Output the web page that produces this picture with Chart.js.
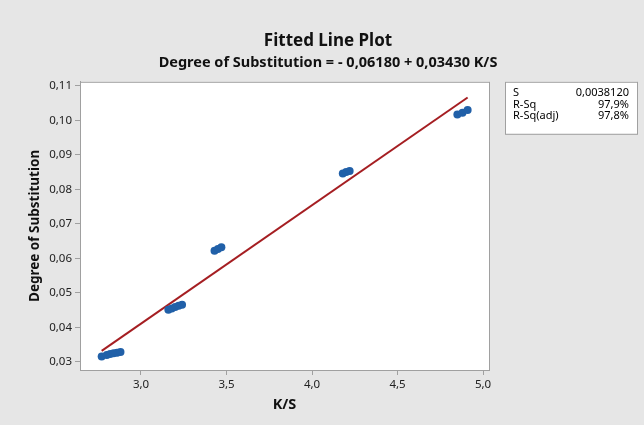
<!DOCTYPE html>
<html>
<head>
<meta charset="utf-8">
<script src="https://cdn.jsdelivr.net/npm/chart.js@4.4.1/dist/chart.umd.min.js"></script>
<style>
  html, body { margin: 0; padding: 0; background: #e6e6e6; }
  #wrap { width: 644px; height: 425px; position: relative; }
</style>
</head>
<body>
<div id="wrap"><canvas id="fitChart"></canvas></div>
<script>
// ---- data ----
const ksValues = [2.77, 2.80, 2.82, 2.84, 2.86, 2.88,
                  3.16, 3.18, 3.20, 3.22, 3.24,
                  3.43, 3.45, 3.47,
                  4.18, 4.20, 4.22,
                  4.85, 4.88, 4.91];
const dsValues = [0.0316, 0.0320, 0.0323, 0.0325, 0.0327, 0.0329,
                  0.0451, 0.0455, 0.0459, 0.0463, 0.0466,
                  0.0622, 0.0627, 0.0632,
                  0.0846, 0.0850, 0.0853,
                  0.1017, 0.1022, 0.1030];
// fitted line end points
const fitX = [2.77, 4.91];
const fitY = [0.0332, 0.1066];

const xTicks = [3.0, 3.5, 4.0, 4.5, 5.0];
const yTicks = [0.03, 0.04, 0.05, 0.06, 0.07, 0.08, 0.09, 0.10, 0.11];

const statLabels = ['S', 'R-Sq', 'R-Sq(adj)'];
const statValues = ['0,0038120', '97,9%', '97,8%'];

const FONT = 'Noto Sans';

// background, plot frame and the summary box
const frame = {
  id: 'frame',
  beforeDraw(chart) {
    const { ctx, chartArea: a } = chart;
    ctx.save();
    ctx.fillStyle = '#e6e6e6';
    ctx.fillRect(0, 0, chart.width, chart.height);
    ctx.fillStyle = '#ffffff';
    ctx.fillRect(a.left, a.top, a.right - a.left, a.bottom - a.top);
    ctx.restore();
  },
  afterDraw(chart) {
    const { ctx, chartArea: a } = chart;
    ctx.save();
    ctx.strokeStyle = '#a0a0a0';
    ctx.lineWidth = 1;
    ctx.strokeRect(a.left + 0.5, a.top + 0.5, a.right - a.left, a.bottom - a.top);
    // stats box
    const bx = a.right + 16, by = a.top, bw = 132, bh = 52;
    ctx.fillStyle = '#ffffff';
    ctx.fillRect(bx, by, bw, bh);
    ctx.strokeRect(bx + 0.5, by + 0.5, bw, bh);
    ctx.fillStyle = '#000';
    ctx.font = '11px "' + FONT + '"';
    ctx.textBaseline = 'middle';
    statLabels.forEach((s, i) => {
      const y = by + 11.5 + i * 11.5;
      ctx.textAlign = 'left';
      ctx.fillText(s, bx + 8, y);
      ctx.textAlign = 'right';
      ctx.fillText(statValues[i], bx + bw - 8, y);
    });
    ctx.restore();
  }
};

new Chart(document.getElementById('fitChart'), {
  type: 'scatter',
  data: {
    datasets: [
      {
        label: 'Regression',
        type: 'line',
        data: fitX.map((x, i) => ({ x, y: fitY[i] })),
        borderColor: '#a51e22', borderWidth: 2,
        pointRadius: 0, fill: false, order: 2,
      },
      {
        label: 'Data',
        data: ksValues.map((x, i) => ({ x, y: dsValues[i] })),
        backgroundColor: '#2160a8', borderColor: '#2160a8',
        pointRadius: 4, borderWidth: 0, order: 1,
      },
    ]
  },
  plugins: [frame],
  options: {
    responsive: true, maintainAspectRatio: false, animation: false,
    layout: { padding: { left: 12, right: 0, top: 0, bottom: 0 } },
    plugins: {
      legend: { display: false },
      tooltip: { enabled: false },
      title: {
        display: true, text: 'Fitted Line Plot', color: '#111',
        font: { family: FONT, size: 17, weight: 'bold' },
        padding: { top: 31, bottom: 3 }
      },
      subtitle: {
        display: true, text: 'Degree of Substitution = - 0,06180 + 0,03430 K/S', color: '#111',
        font: { family: FONT, size: 14.5, weight: 'bold' },
        padding: { top: 0, bottom: 10 }
      }
    },
    scales: {
      x: {
        type: 'linear', min: 2.6433, max: 5.035,
        afterBuildTicks: s => { s.ticks = xTicks.map(v => ({ value: v })); },
        afterFit: s => { s.height = 55; },
        grid: { drawOnChartArea: false, drawTicks: true, tickLength: 5, color: '#a0a0a0' },
        border: { color: '#a0a0a0' },
        ticks: {
          color: '#222', font: { family: FONT, size: 11.5 }, padding: 3,
          callback: v => v.toFixed(1).replace('.', ',')
        },
        title: {
          display: true, text: 'K/S', color: '#111',
          font: { family: FONT, size: 14.5, weight: 'bold' },
          padding: { top: 12, bottom: 11 }
        }
      },
      y: {
        type: 'linear', min: 0.02767, max: 0.11116,
        afterBuildTicks: s => { s.ticks = yTicks.map(v => ({ value: v })); },
        afterFit: s => { s.width = 68; },
        grid: { drawOnChartArea: false, drawTicks: true, tickLength: 5, color: '#a0a0a0' },
        border: { color: '#a0a0a0' },
        ticks: {
          color: '#222', font: { family: FONT, size: 11.5 }, padding: 3,
          callback: v => v.toFixed(2).replace('.', ',')
        },
        title: {
          display: true, text: 'Degree of Substitution', color: '#111',
          font: { family: FONT, size: 13.5, weight: 'bold' },
          padding: { top: 15, bottom: 15 }
        }
      },
      y2: {
        type: 'linear', position: 'right', display: true,
        afterFit: s => { s.width = 155; },
        grid: { display: false }, border: { display: false },
        ticks: { display: false }
      }
    }
  }
});
</script>
</body>
</html>
